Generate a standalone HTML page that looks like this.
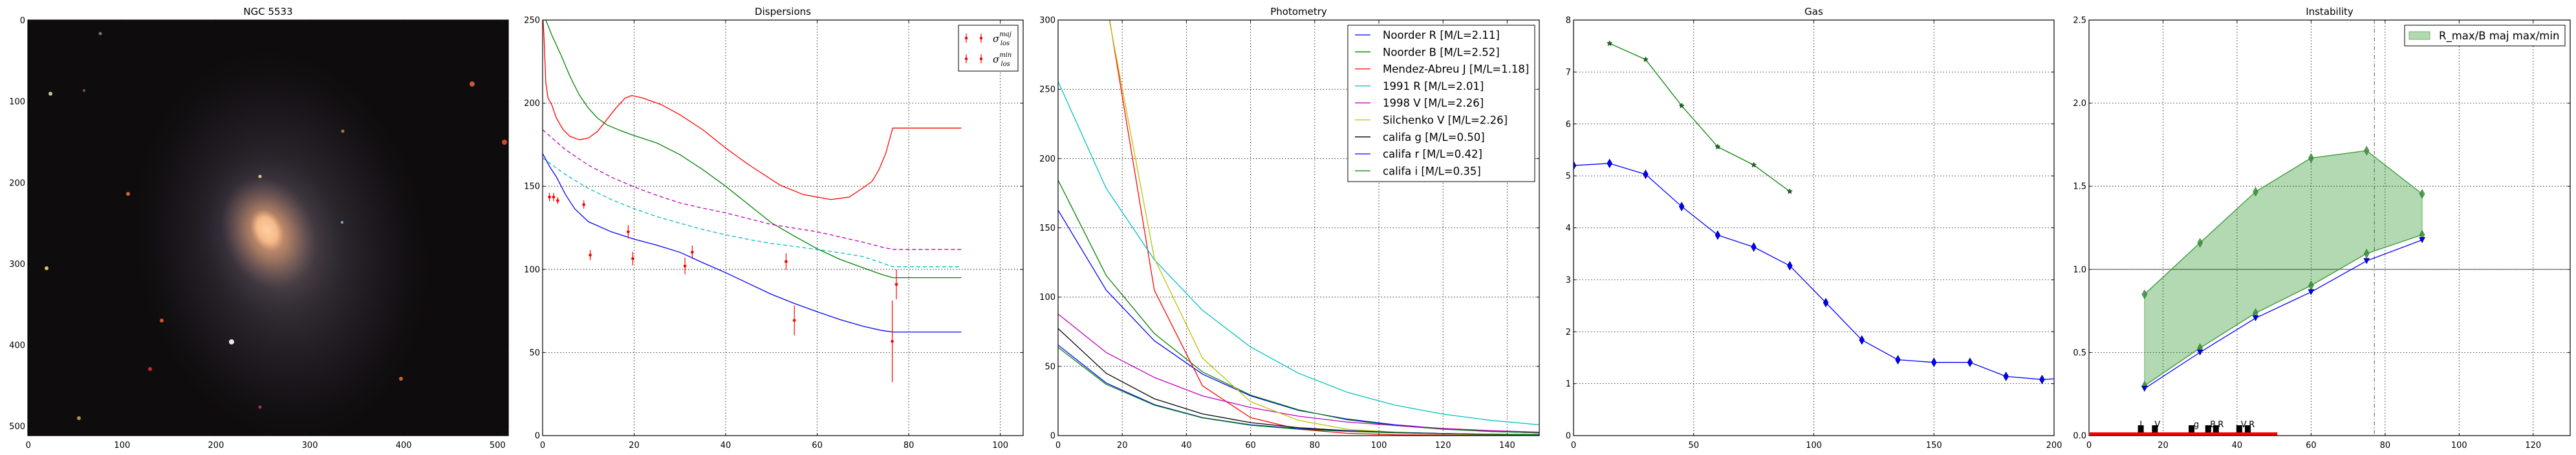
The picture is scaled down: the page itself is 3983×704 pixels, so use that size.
<!DOCTYPE html>
<html><head><meta charset="utf-8">
<style>
html,body{margin:0;padding:0;background:#fff;}
svg{display:block;font-family:"DejaVu Sans","Liberation Sans",sans-serif;}
</style></head>
<body>
<svg id="fig" width="3983" height="704" viewBox="0 0 3983 704" xmlns="http://www.w3.org/2000/svg">
<defs>
<radialGradient id="disk" cx="50%" cy="50%" r="50%">
<stop offset="0" stop-color="#9a8070" stop-opacity="0.6"/>
<stop offset="0.4" stop-color="#5a5060" stop-opacity="0.4"/>
<stop offset="0.75" stop-color="#302c3a" stop-opacity="0.25"/>
<stop offset="1" stop-color="#1a1a22" stop-opacity="0"/>
</radialGradient>
<radialGradient id="bulge" cx="50%" cy="50%" r="50%">
<stop offset="0" stop-color="#f0b080" stop-opacity="1"/>
<stop offset="0.45" stop-color="#c08868" stop-opacity="0.7"/>
<stop offset="1" stop-color="#806060" stop-opacity="0"/>
</radialGradient>
<radialGradient id="core" cx="50%" cy="50%" r="50%">
<stop offset="0" stop-color="#ffd0a0"/>
<stop offset="0.6" stop-color="#f5b888"/>
<stop offset="1" stop-color="#e0a078" stop-opacity="0"/>
</radialGradient>
<clipPath id="c0"><rect x="43" y="31" width="743" height="643"/></clipPath>
<clipPath id="c1"><rect x="839" y="31" width="743" height="643"/></clipPath>
<clipPath id="c2"><rect x="1636" y="31" width="744" height="643"/></clipPath>
<clipPath id="c3"><rect x="2433" y="31" width="743" height="643"/></clipPath>
<clipPath id="c4"><rect x="3230" y="31" width="744" height="643"/></clipPath>
</defs>
<g id="root"></g>
</svg>
<script>
// ---------------- DATA ----------------
// Dispersions
const dispRedX=[0,0.3,0.7,1.2,2,3,4.5,6,8,10,12,14,16,18,19.5,22,26,30,35,40,45,52,57,63,67,70,72,73.5,75,76.5,91.5];
const dispRedY=[255,240,212,203,199,191,184,180,178,179,183,190,197,203,204.6,203,199,193,184,173,163,150.5,145,142,143.5,149,153,160,170,185,185];
const dispGreenX=[0.7,2,4,6,8,10,12,14,17,19.5,25,30,35,40,45,50,55,60,65,70,74,76.5,91.5];
const dispGreenY=[250,241,229,216,205,197,191,187,183.5,181,176,169,160,150,139,128,120,112.4,106,101,97,95,95];
const dispBlueX=[0,1.5,3,5,7,10,15,20,25,30,35,40,45,50,55,60,65,70,74,76.5,91.5];
const dispBlueY=[169.7,162,155.7,145,136.5,128.7,122.6,118.2,114.5,110.3,104,98,91.5,85,79.5,74.5,69.8,65.8,63.3,62.3,62.3];
const dispMagX=[0,5,10,15,20,25,30,35,40,45,50,55,60,65,70,74,76.5,91.5];
const dispMagY=[184,172,162.7,155.5,149.6,144.5,140,136.8,134,130.5,127,124.8,122.6,119.5,116.4,113.5,112,112];
const dispCyanX=[0,5,10,15,20,25,30,35,40,45,50,55,60,65,70,74,76.5,91.5];
const dispCyanY=[167,157,148.7,142,136.5,131.7,127.8,124,120.8,118,115.6,113.8,112,110,107.7,104,101.6,101.6];
const obsX=[1.5,2.4,3.3,9,10.4,18.7,19.7,31.1,32.7,53.2,55,76.4,77.3];
const obsY=[143.5,143.5,141.4,139,108.6,122.6,106.5,102,110.3,104.7,69.3,56.7,91];
const obsErr=[2.5,2.5,2,2.5,3,4,4,5,4,5,9,24.5,9];
const dispXTicks=[0,20,40,60,80,100];
const dispYTicks=[0,50,100,150,200,250];

// Photometry
const photX=[0,15,30,45,60,75,90,105,120,135,150];
const photNoorderR=[162.8,105,68.5,44.4,28.7,18.2,12,7.8,5,3,2];
const photNoorderB=[184.4,115.6,73.7,46,29.3,18.6,11.5,7.3,4.6,3,2];
const photMendez=[900,315,105,36,13,4.6,1.7,0.6,0.4,0.3,0.2];
const phot1991R=[255.6,178.5,127,90.5,64,45,31.4,22,15.5,11,7.8];
const phot1998V=[87.8,60,42,28.7,20.3,14,9.8,7.3,5.2,3.6,2.5];
const photSilchenko=[900,312,128,56,24.5,11,4.6,2.5,1.5,1,0.5];
const photCalifaG=[77.3,45,26.6,15.7,9.4,5.7,3.6,2.3,1.5,1,0.7];
const photCalifaR=[65.4,38,22.4,13,7.8,5,3.3,2.2,1.5,1,0.7];
const photCalifaI=[63.7,37,22,12.8,7.5,4.6,3.1,2,1.3,0.9,0.6];
const photLabels=["Noorder R [M/L=2.11]","Noorder B [M/L=2.52]","Mendez-Abreu J [M/L=1.18]","1991 R [M/L=2.01]","1998 V [M/L=2.26]","Silchenko V [M/L=2.26]","califa g [M/L=0.50]","califa r [M/L=0.42]","califa i [M/L=0.35]"];
const photXTicks=[0,20,40,60,80,100,120,140];
const photYTicks=[0,50,100,150,200,250,300];

// Gas
const gasBlueX=[0,15,30,45,60,75,90,105,120,135,150,165,180,195,210];
const gasBlueY=[5.2,5.24,5.03,4.41,3.86,3.63,3.27,2.56,1.84,1.46,1.41,1.41,1.14,1.08,1.12];
const gasGreenX=[15,30,45,60,75,90];
const gasGreenY=[7.55,7.24,6.35,5.56,5.21,4.7];
const gasXTicks=[0,50,100,150,200];
const gasYTicks=[0,1,2,3,4,5,6,7,8];

// Instability
const insX=[15,30,45,60,75,90];
const insUpper=[0.85,1.16,1.467,1.67,1.714,1.454];
const insLower=[0.3,0.527,0.737,0.903,1.095,1.208];
const insBlue=[0.283,0.501,0.707,0.864,1.051,1.177];
const bandX=[14,17.8,27.7,32.2,34.3,40.6,42.9];
const bandLabels=["I","V","g","B","R","V","R"];
const bandLabelX=[14,18.5,29,33.5,35.6,41.8,44];
const redBarEnd=50.7;
const vLineX=77.1;
const insXTicks=[0,20,40,60,80,100,120];
const insYTicks=[0,0.5,1.0,1.5,2.0,2.5];

// ---------------- DRAW ----------------
const NS="http://www.w3.org/2000/svg";
const root=document.getElementById('root');
function mk(tag,attrs,parent){const e=document.createElementNS(NS,tag);for(const k in attrs)e.setAttribute(k,attrs[k]);(parent||root).appendChild(e);return e;}
const Y0=31,Y1=674;
function lin(d0,d1,r0,r1){return v=>r0+(v-d0)/(d1-d0)*(r1-r0);}
function pathD(xs,ys,sx,sy){return xs.map((x,i)=>(i?'L':'M')+sx(x).toFixed(2)+','+sy(ys[i]).toFixed(2)).join(' ');}

function axes(id,x0,x1,title,xt,yt,sx,sy,xfmt,yfmt,grid){
  const g=mk('g',{});
  
  
  if(grid){
    xt.forEach(v=>{const p=sx(v);if(p>x0+0.5&&p<x1-0.5){const l=mk('line',{x1:p,x2:p,y1:Y0,y2:Y1,stroke:'#000','stroke-width':0.8,'stroke-dasharray':'1.5,3'},g);}});
    yt.forEach(v=>{const p=sy(v);if(p>Y0+0.5&&p<Y1-0.5){const l=mk('line',{x1:x0,x2:x1,y1:p,y2:p,stroke:'#000','stroke-width':0.8,'stroke-dasharray':'1.5,3'},g);}});
  }
  const t=mk('text',{x:(x0+x1)/2,y:23,'text-anchor':'middle','font-size':15},g);
  t.textContent=title;
  
  
  xt.forEach(v=>{const p=sx(v);
    mk('line',{x1:p,x2:p,y1:Y1,y2:Y1-4,stroke:'#000','stroke-width':1},g);
    mk('line',{x1:p,x2:p,y1:Y0,y2:Y0+4,stroke:'#000','stroke-width':1},g);
    const tx=mk('text',{x:p,y:693,'text-anchor':'middle','font-size':13},g);tx.textContent=xfmt(v);
    
    });
  yt.forEach(v=>{const p=sy(v);
    mk('line',{x1:x0,x2:x0+4,y1:p,y2:p,stroke:'#000','stroke-width':1},g);
    mk('line',{x1:x1,x2:x1-4,y1:p,y2:p,stroke:'#000','stroke-width':1},g);
    const ty=mk('text',{x:x0-4,y:p+4.5,'text-anchor':'end','font-size':13},g);ty.textContent=yfmt(v);
    
    });
  return g;
}
function frame(x0,x1){const r=mk('rect',{x:x0,y:Y0,width:x1-x0,height:Y1-Y0,fill:'none',stroke:'#000','stroke-width':1.2});}
function line(xs,ys,sx,sy,color,clip,name,dash,w){
  const p=mk('path',{d:pathD(xs,ys,sx,sy),fill:'none',stroke:color,'stroke-width':w||1.3,'clip-path':'url(#'+clip+')','stroke-linejoin':'round'});
  if(dash)p.setAttribute('stroke-dasharray',dash);
  
  
  return p;
}

// Panel 0: galaxy image
(function(){
  const x0=43,x1=786;
  const bg=mk('rect',{x:x0,y:Y0,width:x1-x0,height:Y1-Y0,fill:'#0f0c0d'});
  
  
  const gal=mk('g',{'clip-path':'url(#c0)'});
  
  
  mk('ellipse',{cx:435,cy:380,rx:230,ry:310,fill:'url(#disk)',transform:'rotate(-10 435 380)'},gal);
  mk('ellipse',{cx:420,cy:365,rx:125,ry:155,fill:'url(#disk)',transform:'rotate(-20 420 365)'},gal);
  mk('ellipse',{cx:415,cy:360,rx:70,ry:90,fill:'url(#bulge)',transform:'rotate(-25 415 360)'},gal);
  mk('ellipse',{cx:413,cy:356,rx:24,ry:34,fill:'url(#core)',transform:'rotate(-25 413 356)'},gal);
  const stars=[[730,130,4,'#e06040'],[780,220,4,'#e05030'],[78,145,3,'#d8d8b0'],[198,300,3,'#e07040'],[72,415,3,'#f0d080'],[250,496,3,'#e06030'],[358,529,4,'#ffffff'],[232,571,3,'#e03030'],[620,586,3,'#e07030'],[402,630,2.5,'#d03040'],[122,647,3,'#c0a050'],[402,273,2.5,'#f0e090'],[529,344,2,'#80c0d0'],[530,203,2.5,'#c08040'],[155,52,2.5,'#908060'],[130,140,2,'#a05040']];
  stars.forEach(s=>{const c=mk('circle',{cx:s[0],cy:s[1],r:s[2],fill:s[3],opacity:0.9},gal);});
  const sx=v=>x0+(v+0.5)*(x1-x0)/512, sy=v=>Y0+(v+0.5)*(Y1-Y0)/512;
  axes('image',x0,x1,'NGC 5533',[0,100,200,300,400,500],[0,100,200,300,400,500],sx,sy,v=>v,v=>v,false);
  frame(x0,x1);
})();

// Panel 1: Dispersions
(function(){
  const x0=839,x1=1582;
  const sx=lin(0,105,x0,x1), sy=lin(0,250,Y1,Y0);
  axes('dispersions',x0,x1,'Dispersions',dispXTicks,dispYTicks,sx,sy,v=>v,v=>v,true);
  line(dispRedX,dispRedY,sx,sy,'#ff0000','c1','dispersion-red-curve');
  line(dispGreenX,dispGreenY,sx,sy,'#008000','c1','dispersion-green-curve');
  line(dispBlueX,dispBlueY,sx,sy,'#0000ff','c1','dispersion-blue-curve');
  line(dispMagX,dispMagY,sx,sy,'#bf00bf','c1','dispersion-magenta-dashed',"6,4");
  line(dispCyanX,dispCyanY,sx,sy,'#00bfbf','c1','dispersion-cyan-dashed',"6,4");
  obsX.forEach((x,i)=>{
    const g=mk('g',{'clip-path':'url(#c1)'});
    
    
    mk('line',{x1:sx(x),x2:sx(x),y1:sy(obsY[i]-obsErr[i]),y2:sy(obsY[i]+obsErr[i]),stroke:'#ff0000','stroke-width':1.2},g);
    mk('circle',{cx:sx(x),cy:sy(obsY[i]),r:2.3,fill:'#ff0000'},g);
  });
  frame(x0,x1);
  const lg=mk('g',{});
  
  
  mk('rect',{x:1482,y:39,width:92,height:71,fill:'#fff',stroke:'#000','stroke-width':1},lg);
  [[59,'maj'],[91,'min']].forEach(r=>{
    [1494,1517].forEach(mx=>{mk('line',{x1:mx,x2:mx,y1:r[0]-7,y2:r[0]+7,stroke:'#ff0000','stroke-width':1.2},lg);mk('circle',{cx:mx,cy:r[0],r:2.2,fill:'#ff0000'},lg);});
    const t=mk('text',{x:1535,y:r[0]+6,'font-size':15,'font-family':'DejaVu Serif, serif','font-style':'italic'},lg);
    
    
    t.innerHTML='σ<tspan font-size="10" dy="-9">'+r[1]+'</tspan><tspan font-size="10" dx="-17" dy="14">los</tspan>';
  });
})();

// Panel 2: Photometry
(function(){
  const x0=1636,x1=2380;
  const sx=lin(0,150,x0,x1), sy=lin(0,300,Y1,Y0);
  axes('photometry',x0,x1,'Photometry',photXTicks,photYTicks,sx,sy,v=>v,v=>v,true);
  const series=[photNoorderR,photNoorderB,photMendez,phot1991R,phot1998V,photSilchenko,photCalifaG,photCalifaR,photCalifaI];
  const colors=['#0000ff','#008000','#ff0000','#00bfbf','#bf00bf','#bfbf00','#000000','#0000ff','#008000'];
  const names=['noorder-r','noorder-b','mendez-abreu-j','1991-r','1998-v','silchenko-v','califa-g','califa-r','califa-i'];
  series.forEach((s,i)=>line(photX,s,sx,sy,colors[i],'c2','photometry-'+names[i]+'-line'));
  frame(x0,x1);
  const lg=mk('g',{});
  
  
  mk('rect',{x:2084,y:39,width:289,height:242,fill:'#fff',stroke:'#000','stroke-width':1},lg);
  photLabels.forEach((lab,i)=>{
    const y=54+i*26.3;
    mk('line',{x1:2095,x2:2119,y1:y,y2:y,stroke:colors[i],'stroke-width':1.3},lg);
    const t=mk('text',{x:2138,y:y+6,'font-size':16.5},lg);
    t.textContent=lab;
    
    
  });
})();

// Panel 3: Gas
(function(){
  const x0=2433,x1=3176;
  const sx=lin(0,200,x0,x1), sy=lin(0,8,Y1,Y0);
  axes('gas',x0,x1,'Gas',gasXTicks,gasYTicks,sx,sy,v=>v,v=>v,true);
  line(gasBlueX,gasBlueY,sx,sy,'#0000ff','c3','gas-blue-line');
  line(gasGreenX,gasGreenY,sx,sy,'#008000','c3','gas-green-line');
  gasBlueX.forEach((x,i)=>{const X=sx(x),Y=sy(gasBlueY[i]);
    const d=mk('path',{d:`M${X},${Y-7}L${X+4},${Y}L${X},${Y+7}L${X-4},${Y}Z`,fill:'#0000ff',stroke:'#000','stroke-width':0.5,'clip-path':'url(#c3)'});
    
    });
  gasGreenX.forEach((x,i)=>{const X=sx(x),Y=sy(gasGreenY[i]);let p='';
    for(let k=0;k<10;k++){const a=-Math.PI/2+k*Math.PI/5,r=k%2?1.8:4.2;p+=(k?'L':'M')+(X+r*Math.cos(a)).toFixed(2)+','+(Y+r*Math.sin(a)).toFixed(2);}
    const s=mk('path',{d:p+'Z',fill:'#008000',stroke:'#000','stroke-width':0.5});
    
    });
  frame(x0,x1);
})();

// Panel 4: Instability
(function(){
  const x0=3230,x1=3974;
  const sx=lin(0,130,x0,x1), sy=lin(0,2.5,Y1,Y0);
  axes('instability',x0,x1,'Instability',insXTicks,insYTicks,sx,sy,v=>v,v=>v.toFixed(1),true);
  const one=mk('line',{x1:x0,x2:x1,y1:sy(1),y2:sy(1),stroke:'#555','stroke-width':1});
  
  
  const vl=mk('line',{x1:sx(vLineX),x2:sx(vLineX),y1:Y0,y2:Y1,stroke:'#555','stroke-width':1,'stroke-dasharray':'6,3,1.5,3'});
  
  
  let d=insX.map((x,i)=>(i?'L':'M')+sx(x)+','+sy(insUpper[i])).join('');
  for(let i=insX.length-1;i>=0;i--)d+='L'+sx(insX[i])+','+sy(insLower[i]);
  const f=mk('path',{d:d+'Z',fill:'#008000','fill-opacity':0.3,stroke:'#008000','stroke-opacity':0.5,'stroke-width':1});
  
  
  line(insX,insUpper,sx,sy,'#3a9a3a','c4','instability-upper-line');
  line(insX,insLower,sx,sy,'#3a9a3a','c4','instability-lower-line');
  line(insX,insBlue,sx,sy,'#0000ff','c4','instability-blue-line');
  [insUpper,insLower].forEach(arr=>insX.forEach((x,i)=>{const X=sx(x),Y=sy(arr[i]);
    const m=mk('path',{d:`M${X},${Y-7}L${X+4},${Y}L${X},${Y+7}L${X-4},${Y}Z`,fill:'#2e8b2e','fill-opacity':0.8,stroke:'#1a5a1a','stroke-width':0.5});
    
    }));
  insX.forEach((x,i)=>{const X=sx(x),Y=sy(insBlue[i]);
    const m=mk('path',{d:`M${X-4.5},${Y-4}L${X+4.5},${Y-4}L${X},${Y+4.5}Z`,fill:'#0000ff',stroke:'#000','stroke-width':0.5});
    
    });
  const rb=mk('rect',{x:sx(0)+1,y:669,width:sx(redBarEnd)-sx(0),height:5,fill:'#ff0000'});
  
  
  bandX.forEach((x,i)=>{
    const r=mk('rect',{x:sx(x)-4.5,y:658,width:9,height:11,fill:'#000'});
    
    
    const t=mk('text',{x:sx(bandLabelX[i]),y:661,'text-anchor':'middle','font-size':13});
    t.textContent=bandLabels[i];
    
    
  });
  frame(x0,x1);
  const lg=mk('g',{});
  
  
  mk('rect',{x:3718,y:39,width:248,height:32,fill:'#fff',stroke:'#000','stroke-width':1},lg);
  mk('rect',{x:3725,y:49,width:32,height:12,fill:'#008000','fill-opacity':0.3,stroke:'#008000','stroke-opacity':0.5},lg);
  const t=mk('text',{x:3771,y:61,'font-size':16.5},lg);
  t.textContent='R_max/B maj max/min';
  
  
})();
</script>
</body></html>
